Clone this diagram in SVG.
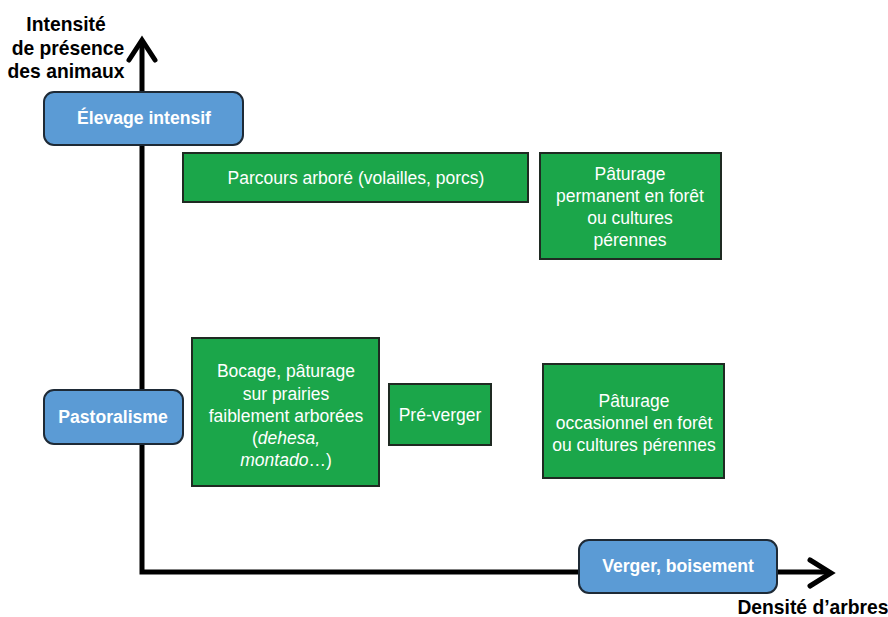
<svg xmlns="http://www.w3.org/2000/svg" width="888" height="617" viewBox="0 0 888 617">
<defs>
<style>
.axis{stroke:#000;stroke-width:5;fill:none;stroke-linecap:square}
.head{stroke:#000;stroke-width:5;fill:none;stroke-linecap:round;stroke-linejoin:miter}
.blue{fill:#5b9bd5;stroke:#1e2a36;stroke-width:2}
.green{fill:#1ba64a;stroke:#1f2a22;stroke-width:2}
.bt{font-family:"Liberation Sans",Arial,sans-serif;font-weight:bold;font-size:17.6px;fill:#fff;text-anchor:middle}
.gt{font-family:"Liberation Sans",Arial,sans-serif;font-size:17.5px;fill:#fff;text-anchor:middle}
.lab{font-family:"Liberation Sans",Arial,sans-serif;font-weight:bold;font-size:19.3px;fill:#000;text-anchor:middle}
</style>
</defs>
<rect width="888" height="617" fill="#fff"/>
<g id="connectors">
<path class="axis" d="M142,44 V572 H826"/>
<path class="head" d="M129,60 L142,40 L155,60"/>
<path class="head" d="M810,560 L831,573 L810,586"/>
</g>
<g id="label-y">
<text class="lab" x="66" y="31">Intensité</text>
<text class="lab" x="68" y="55">de présence</text>
<text class="lab" x="66" y="78">des animaux</text>
</g>
<g id="label-x">
<text class="lab" x="813" y="614">Densité d’arbres</text>
</g>
<g id="elevage">
<rect class="blue" x="44" y="92" width="199" height="53" rx="10"/>
<text class="bt" x="144" y="124">Élevage intensif</text>
</g>
<g id="pastoralisme">
<rect class="blue" x="44" y="390" width="139" height="54" rx="10"/>
<text class="bt" x="113" y="423">Pastoralisme</text>
</g>
<g id="verger">
<rect class="blue" x="579" y="540" width="198" height="53" rx="10"/>
<text class="bt" x="678" y="572">Verger, boisement</text>
</g>
<g id="parcours">
<rect class="green" x="183" y="153" width="345" height="49"/>
<text class="gt" x="356" y="184">Parcours arboré (volailles, porcs)</text>
</g>
<g id="paturage-permanent">
<rect class="green" x="540" y="153" width="181" height="106"/>
<text class="gt" x="630" y="180">Pâturage</text>
<text class="gt" x="630" y="202">permanent en forêt</text>
<text class="gt" x="630" y="224">ou cultures</text>
<text class="gt" x="630" y="246">pérennes</text>
</g>
<g id="bocage">
<rect class="green" x="192" y="338" width="187" height="148"/>
<text class="gt" x="286" y="377">Bocage, pâturage</text>
<text class="gt" x="286" y="400">sur prairies</text>
<text class="gt" x="286" y="422">faiblement arborées</text>
<text class="gt" x="286" y="444">(<tspan font-style="italic">dehesa,</tspan></text>
<text class="gt" x="286" y="466"><tspan font-style="italic">montado</tspan>…)</text>
</g>
<g id="pre-verger">
<rect class="green" x="389" y="384" width="102" height="61"/>
<text class="gt" x="440" y="421">Pré-verger</text>
</g>
<g id="paturage-occasionnel">
<rect class="green" x="543" y="364" width="181" height="114"/>
<text class="gt" x="634" y="407">Pâturage</text>
<text class="gt" x="634" y="429">occasionnel en forêt</text>
<text class="gt" x="634" y="451">ou cultures pérennes</text>
</g>
</svg>
